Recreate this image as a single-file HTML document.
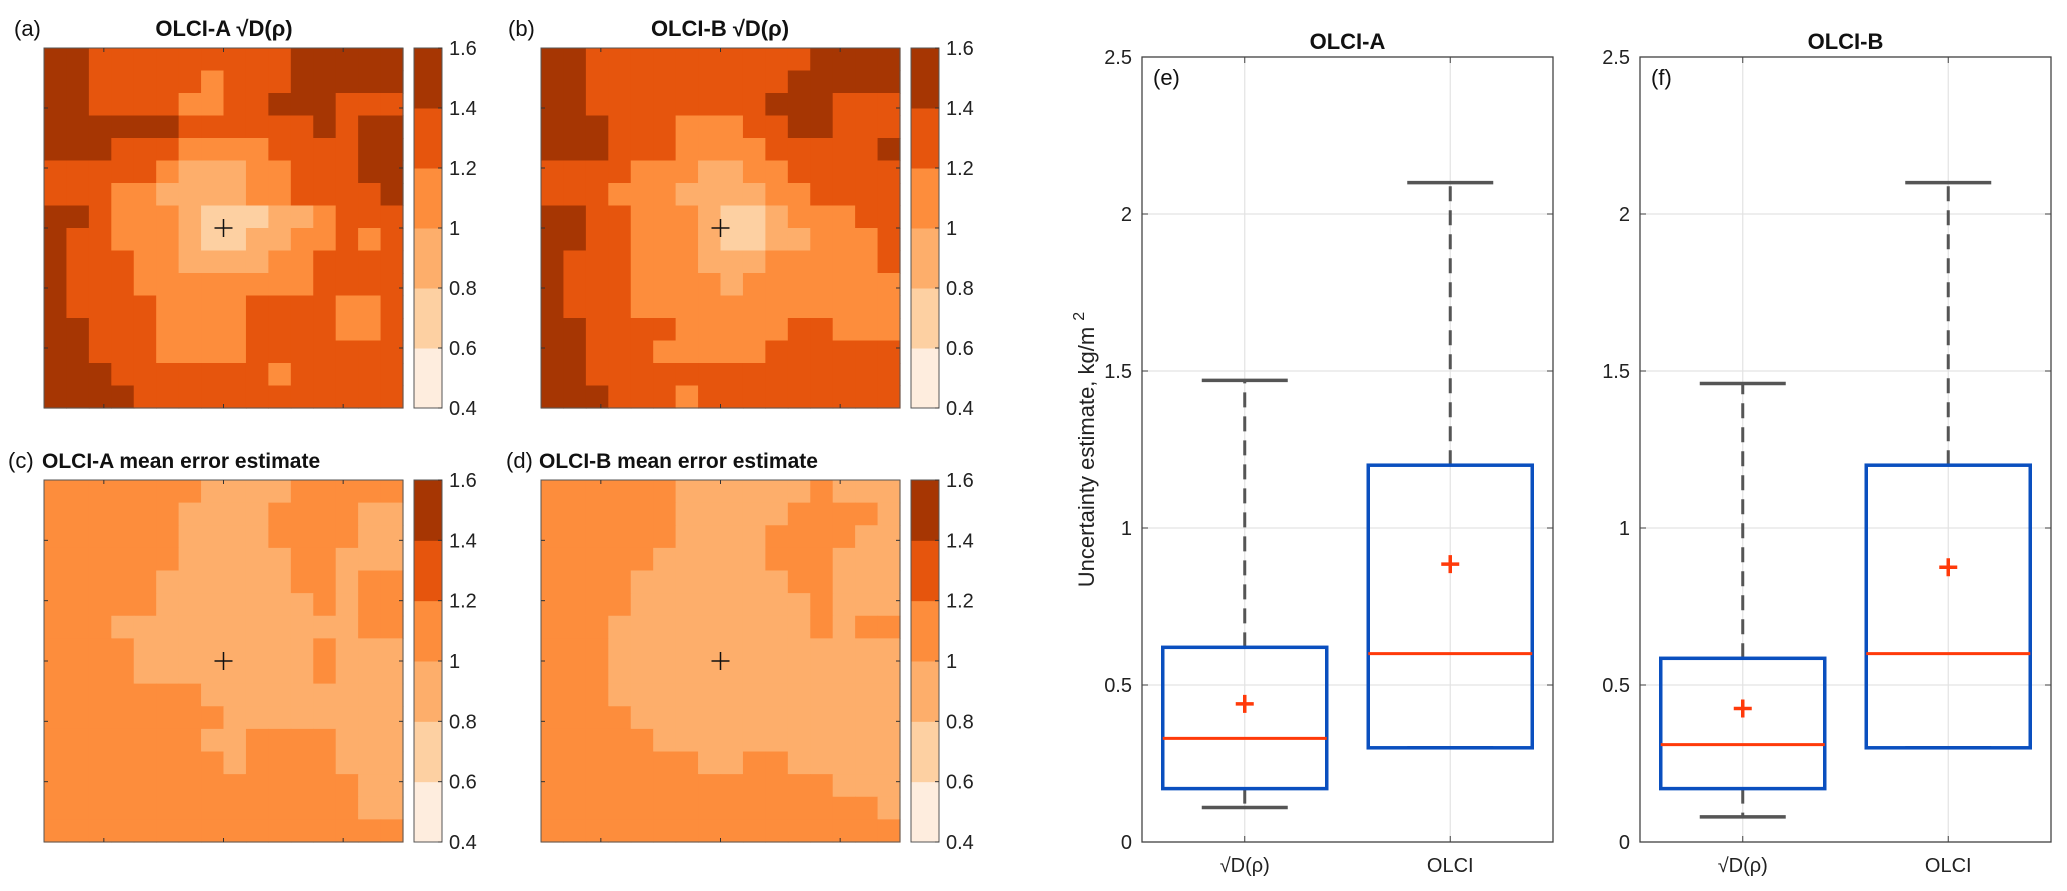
<!DOCTYPE html>
<html><head><meta charset="utf-8">
<style>
html,body{margin:0;padding:0;background:#fff;}
svg{display:block;font-family:"Liberation Sans",sans-serif;}
</style></head>
<body>
<svg id="fig" width="2067" height="891" viewBox="0 0 2067 891" xmlns="http://www.w3.org/2000/svg">
</svg>
<script>
// ===== Map data (class index 0..5 => 0.4-0.6 ... 1.4-1.6) =====
const mapA = ["5544444444455555","5544444344455555","5544443344555444","5555554444445455","5554443333444455","4444432223344455","4443322223344445","5543332111223444","5443332112233434","5444332222334444","5444333333334444","5444433334444334","5544433334444334","5544433334444444","5554444444344444","5555444444444444"];
const mapB = ["5544444444445555","5544444444455555","5544444444555444","5554443334455444","5554443333444445","4444333223344444","4443332222334444","5544333211233344","5544333211223334","5444333222333334","5444333323333333","5444333333333333","5544443333344333","5544433333444444","5544444444444444","5554443444444444"];
const mapC = ["3333333222233333","3333332222333322","3333332222333322","3333332222233222","3333322222233233","3333322222223233","3332222222222233","3333222222223222","3333222222223222","3333333222222222","3333333322222222","3333333223333222","3333333323333222","3333333333333322","3333333333333322","3333333333333333"];
const mapD = ["3333332222223222","3333332222233332","3333332222333322","3333322222333222","3333222222233222","3333222222223222","3332222222223233","3332222222222222","3332222222222222","3332222222222222","3333222222222222","3333322222222222","3333333223322222","3333333333333222","3333333333333332","3333333333333333"];
const cbTicks = ["0.4","0.6","0.8","1","1.2","1.4","1.6"];
// ===== Box plot data =====
const boxCats = ["√D(ρ)","OLCI"];
const yTicks = [0,0.5,1,1.5,2,2.5];
const yTickLabels = ["0","0.5","1","1.5","2","2.5"];
const eQ1=[0.17,0.30], eQ3=[0.62,1.20], eMed=[0.33,0.60], eMean=[0.44,0.885], eLo=[0.11,0.30], eHi=[1.47,2.10];
const fQ1=[0.17,0.30], fQ3=[0.585,1.20], fMed=[0.31,0.60], fMean=[0.425,0.875], fLo=[0.08,0.30], fHi=[1.46,2.10];

const NS="http://www.w3.org/2000/svg";
const svg=document.getElementById('fig');
const colors=["#feedde","#fdd0a2","#fdae6b","#fd8d3c","#e6550d","#a63603"];
function mk(tag,attrs,parent){const e=document.createElementNS(NS,tag);for(const k in attrs)e.setAttribute(k,attrs[k]);(parent||svg).appendChild(e);return e;}
function txt(x,y,s,attrs,parent){const t=mk('text',Object.assign({x:x,y:y},attrs),parent);t.textContent=s;return t;}

function drawMap(grid,x0,y0,w,h,name,label,title,titleX,titleAnchor,labX,titleSize){
  const g=mk('g',{});
  
  
  const n=grid.length, m=grid[0].length, cw=w/m, ch=h/n;
  for(let r=0;r<n;r++)for(let c=0;c<m;c++){
    const v=+grid[r][c];
    const cell=mk('rect',{x:x0+c*cw,y:y0+r*ch,width:cw+0.6,height:ch+0.6,fill:colors[v]},g);
    
    
  }
  mk('rect',{x:x0,y:y0,width:w,height:h,fill:'none',stroke:'#555',"stroke-width":1},g);
  [1/6,0.5,5/6].forEach(f=>{
    mk('line',{x1:x0+f*w,y1:y0,x2:x0+f*w,y2:y0+4,stroke:'#333'},g);
    mk('line',{x1:x0+f*w,y1:y0+h,x2:x0+f*w,y2:y0+h-4,stroke:'#333'},g);
  });
  [1/6,2/6,0.5,4/6,5/6].forEach(f=>{
    mk('line',{x1:x0,y1:y0+f*h,x2:x0+4,y2:y0+f*h,stroke:'#333'},g);
    mk('line',{x1:x0+w,y1:y0+f*h,x2:x0+w-4,y2:y0+f*h,stroke:'#333'},g);
  });
  const cx=x0+w/2, cy=y0+h/2;
  const ch1=mk('path',{d:`M${cx-9},${cy}H${cx+9}M${cx},${cy-9}V${cy+9}`,stroke:'#111',"stroke-width":1.5},g);
  
  
  const l=txt(labX,y0-12,label,{"font-size":22,fill:'#111'},g);
  
  
  const t=txt(titleX,y0-12,title,{"font-size":titleSize,"font-weight":"bold","text-anchor":titleAnchor,fill:'#111'},g);
  
  
  const cbx=x0+w+11, cbw=28;
  const cb=mk('g',{},g);
  
  
  for(let i=0;i<6;i++){
    mk('rect',{x:cbx,y:y0+h-(i+1)*h/6,width:cbw,height:h/6+0.5,fill:colors[i]},cb);
  }
  mk('rect',{x:cbx,y:y0,width:cbw,height:h,fill:'none',stroke:'#555'},cb);
  cbTicks.forEach((s,i)=>{
    const yy=y0+h-i*h/6;
    mk('line',{x1:cbx+cbw,y1:yy,x2:cbx+cbw-4,y2:yy,stroke:'#333'},cb);
    const tl=txt(cbx+cbw+7,yy+7,s,{"font-size":20,fill:'#222'},cb);
    
    
  });
}
drawMap(mapA,44,48,359,360,'map-a','(a)','OLCI-A √D(ρ)',224,'middle',14,22);
drawMap(mapB,541,48,359,360,'map-b','(b)','OLCI-B √D(ρ)',720,'middle',508,22);
drawMap(mapC,44,480,359,362,'map-c','(c)','OLCI-A mean error estimate',42,'start',8,21);
drawMap(mapD,541,480,359,362,'map-d','(d)','OLCI-B mean error estimate',539,'start',506,21);

function drawBox(x0,x1,yTop,yBot,Q1,Q3,Med,Mean,Lo,Hi,name,label,title,ylab){
  const g=mk('g',{});
  
  
  const W=x1-x0;
  const ys=v=>yBot-(v/2.5)*(yBot-yTop);
  const xs=i=>x0+W*(i+0.5)/boxCats.length;
  yTicks.forEach(v=>mk('line',{x1:x0,y1:ys(v),x2:x1,y2:ys(v),stroke:'#e3e3e3',"stroke-width":1.2},g));
  boxCats.forEach((c,i)=>mk('line',{x1:xs(i),y1:yTop,x2:xs(i),y2:yBot,stroke:'#e3e3e3',"stroke-width":1.2},g));
  mk('rect',{x:x0,y:yTop,width:W,height:yBot-yTop,fill:'none',stroke:'#444',"stroke-width":1.3},g);
  yTicks.forEach((v,i)=>{
    mk('line',{x1:x0,y1:ys(v),x2:x0+6,y2:ys(v),stroke:'#444'},g);
    mk('line',{x1:x1,y1:ys(v),x2:x1-6,y2:ys(v),stroke:'#444'},g);
    const t=txt(x0-10,ys(v)+7,yTickLabels[i],{"font-size":20,"text-anchor":"end",fill:'#222'},g);
    
    
  });
  boxCats.forEach((c,i)=>{
    mk('line',{x1:xs(i),y1:yBot,x2:xs(i),y2:yBot-6,stroke:'#444'},g);
    mk('line',{x1:xs(i),y1:yTop,x2:xs(i),y2:yTop+6,stroke:'#444'},g);
    const t=txt(xs(i),yBot+30,c,{"font-size":20,"text-anchor":"middle",fill:'#222'},g);
    
    
  });
  boxCats.forEach((c,i)=>{
    const cx=xs(i), hw=82, cap=43;
    const wu=mk('line',{x1:cx,y1:ys(Q3[i]),x2:cx,y2:ys(Hi[i]),stroke:'#555',"stroke-width":3,"stroke-dasharray":"15 9"},g);
    
    
    const wl=mk('line',{x1:cx,y1:ys(Q1[i]),x2:cx,y2:ys(Lo[i]),stroke:'#555',"stroke-width":3,"stroke-dasharray":"15 9"},g);
    
    
    mk('line',{x1:cx-cap,y1:ys(Hi[i]),x2:cx+cap,y2:ys(Hi[i]),stroke:'#555',"stroke-width":3.5},g);
    mk('line',{x1:cx-cap,y1:ys(Lo[i]),x2:cx+cap,y2:ys(Lo[i]),stroke:'#555',"stroke-width":3.5},g);
    const b=mk('rect',{x:cx-hw,y:ys(Q3[i]),width:2*hw,height:ys(Q1[i])-ys(Q3[i]),fill:'none',stroke:'#0a4fbf',"stroke-width":3.5},g);
    
    
    const md=mk('line',{x1:cx-hw,y1:ys(Med[i]),x2:cx+hw,y2:ys(Med[i]),stroke:'#ff3a0a',"stroke-width":3},g);
    
    
    const my=ys(Mean[i]);
    const mn=mk('path',{d:`M${cx-9},${my}H${cx+9}M${cx},${my-9}V${my+9}`,stroke:'#ff3a0a',"stroke-width":3.5},g);
    
    
  });
  const l=txt(x0+11,yTop+28,label,{"font-size":22,fill:'#111'},g);
  
  
  const t=txt((x0+x1)/2,yTop-8,title,{"font-size":22,"font-weight":"bold","text-anchor":"middle",fill:'#111'},g);
  
  
  if(ylab){
    const yl=mk('text',{x:0,y:0,transform:`translate(1094,${(yTop+yBot)/2}) rotate(-90)`,"font-size":22,"text-anchor":"middle",fill:'#222'},g);
    
    
    yl.textContent='Uncertainty estimate, kg/m ';
    const sup=mk('tspan',{dy:-10,"font-size":16},yl);
    sup.textContent='2';
  }
}
drawBox(1142,1553,57,842,eQ1,eQ3,eMed,eMean,eLo,eHi,'boxplot-e','(e)','OLCI-A',true);
drawBox(1640,2051,57,842,fQ1,fQ3,fMed,fMean,fLo,fHi,'boxplot-f','(f)','OLCI-B',false);
</script>
</body></html>
